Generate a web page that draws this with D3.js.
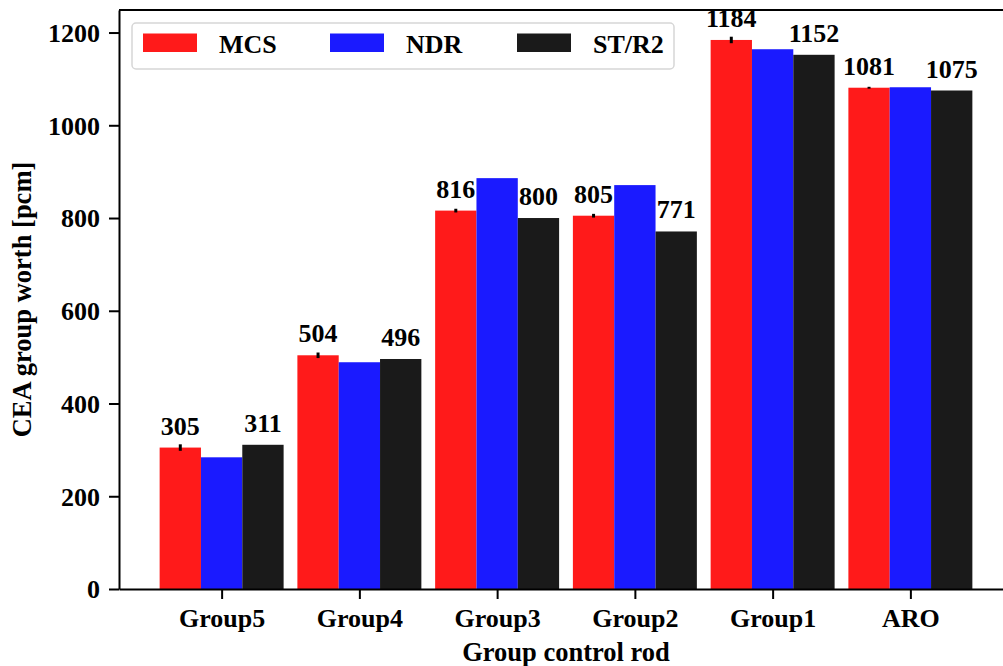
<!DOCTYPE html>
<html>
<head>
<meta charset="utf-8">
<script src="https://cdn.jsdelivr.net/npm/d3@7/dist/d3.min.js"></script>
<style>
  html, body { margin: 0; padding: 0; background: #fff; }
  svg { display: block; }
  text { font-family: "Liberation Serif", "Times New Roman", serif; font-weight: bold; fill: #000; }
</style>
</head>
<body>
<svg id="chart" width="1003" height="666"></svg>
<script>
// Control-rod groups and worth values [pcm]
const categories = ["Group5", "Group4", "Group3", "Group2", "Group1", "ARO"];
const seriesNames = ["MCS", "NDR", "ST/R2"];
const mcs = [305, 504, 816, 805, 1184, 1081];
const mcsErr = [7, 6, 4, 4, 7, 2];
const ndr = [284, 489, 886, 871, 1164, 1082];
const str2 = [311, 496, 800, 771, 1152, 1075];
const yTicks = [0, 200, 400, 600, 800, 1000, 1200];
const colors = ["#ff1a1a", "#1a1aff", "#1a1a1a"];

const series = [mcs, ndr, str2];
const svg = d3.select("#chart");
const FS = 26;

const margin = { left: 119, right: 1013, top: 10, bottom: 589 };
const barW = 0.3;

// x is a linear scale on category index, like a grouped bar plot
const x = d3.scaleLinear().domain([-0.745, categories.length - 1 + 0.745])
  .range([margin.left, margin.right]);
const y = d3.scaleLinear().domain([0, 1248.6]).range([margin.bottom, margin.top]);

const g = svg.append("g");

// bars
series.forEach((vals, si) => {
  const off = (si - 1) * barW;
  g.selectAll(null).data(vals).enter().append("rect")
    .attr("x", (d, i) => x(i + off - barW / 2))
    .attr("y", d => y(d))
    .attr("width", x(barW) - x(0))
    .attr("height", d => y(0) - y(d))
    .attr("fill", colors[si]);
});

// error bars on MCS
g.selectAll(null).data(mcs).enter().append("line")
  .attr("x1", (d, i) => x(i - barW)).attr("x2", (d, i) => x(i - barW))
  .attr("y1", (d, i) => y(d - mcsErr[i])).attr("y2", (d, i) => y(d + mcsErr[i]))
  .attr("stroke", "#000").attr("stroke-width", 3);

// value labels for MCS and ST/R2
[[mcs, -1], [str2, 1]].forEach(([vals, k]) => {
  g.selectAll(null).data(vals).enter().append("text")
    .attr("x", (d, i) => x(i + k * barW))
    .attr("y", d => y(d) - 13)
    .attr("text-anchor", "middle")
    .attr("font-size", FS)
    .text(d => d);
});

// axes
const yAxis = d3.axisLeft(y).tickValues(yTicks).tickFormat(d3.format("d"))
  .tickSize(10).tickPadding(9).tickSizeOuter(0);
const xAxis = d3.axisBottom(x).tickValues(d3.range(categories.length))
  .tickFormat(i => categories[i]).tickSize(10).tickPadding(9.5).tickSizeOuter(0);

const ya = svg.append("g").attr("transform", `translate(${margin.left},0)`).call(yAxis);
const xa = svg.append("g").attr("transform", `translate(0,${margin.bottom})`).call(xAxis);
[ya, xa].forEach(a => {
  a.attr("font-family", null).attr("font-size", null);
  a.selectAll("path").attr("stroke", "#000").attr("stroke-width", 2);
  a.selectAll("line").attr("stroke", "#000").attr("stroke-width", 2);
  a.selectAll("text").attr("font-size", FS).attr("fill", "#000");
});
ya.selectAll("text").attr("dy", "0.34em");

// top and right frame lines
svg.append("line").attr("x1", margin.left).attr("x2", margin.right)
  .attr("y1", margin.top).attr("y2", margin.top).attr("stroke", "#000").attr("stroke-width", 2);
svg.append("line").attr("x1", margin.right).attr("x2", margin.right)
  .attr("y1", margin.top).attr("y2", margin.bottom).attr("stroke", "#000").attr("stroke-width", 2);

// axis titles
svg.append("text").attr("x", (margin.left + margin.right) / 2).attr("y", 661)
  .attr("text-anchor", "middle").attr("font-size", 26.5).text("Group control rod");
svg.append("text").attr("transform", `translate(31,${(margin.top + margin.bottom) / 2}) rotate(-90)`)
  .attr("text-anchor", "middle").attr("font-size", 26.5).text("CEA group worth [pcm]");

// legend
const leg = svg.append("g");
leg.append("rect").attr("x", 132).attr("y", 23).attr("width", 542).attr("height", 46)
  .attr("rx", 4).attr("fill", "#fff").attr("stroke", "#d6d6d6").attr("stroke-width", 1.5);
const legX = [143, 330, 517];
seriesNames.forEach((name, i) => {
  leg.append("rect").attr("x", legX[i]).attr("y", 33.5).attr("width", 54).attr("height", 18.5)
    .attr("fill", colors[i]);
  leg.append("text").attr("x", legX[i] + 76).attr("y", 52.5).attr("font-size", FS).text(name);
});
</script>
</body>
</html>
